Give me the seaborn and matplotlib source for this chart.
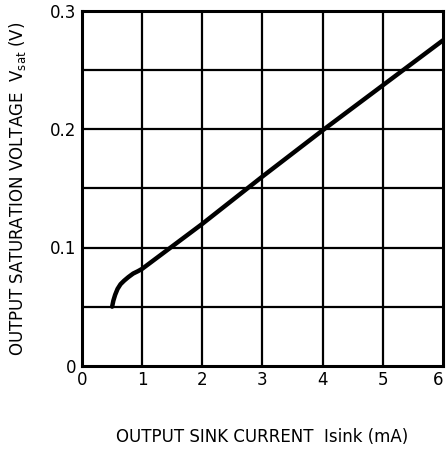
import matplotlib
matplotlib.use("Agg")
import matplotlib.pyplot as plt
import seaborn as sns
import numpy as np
import pandas as pd

# Data
isink_ma = [0.5, 0.52, 0.55, 0.59, 0.64, 0.7, 0.77, 0.85, 0.93, 1.0, 1.5, 2.0, 3.0, 4.0, 5.0, 6.0]
vsat_v = [0.050, 0.055, 0.060, 0.065, 0.069, 0.072, 0.075, 0.078, 0.080, 0.082, 0.101, 0.120, 0.160, 0.199, 0.237, 0.275]
x_ticks = [0, 1, 2, 3, 4, 5, 6]
y_ticks = [0, 0.1, 0.2, 0.3]
y_tick_labels = ["0", "0.1", "0.2", "0.3"]
y_grid = [0.05, 0.1, 0.15, 0.2, 0.25]

sns.set_theme(style="white")
plt.rcParams['font.family'] = ['DejaVu Sans']

df = pd.DataFrame({"I": isink_ma, "V": vsat_v})

fig = plt.figure(figsize=(4.46, 4.5), dpi=100)
ax = fig.add_axes([0.184, 0.187, 0.809, 0.789])

for xv in x_ticks[1:-1]:
    ax.axvline(xv, color="black", lw=1.6, zorder=1)
for yv in y_grid:
    ax.axhline(yv, color="black", lw=1.6, zorder=1)

sns.lineplot(data=df, x="I", y="V", ax=ax, color="black", lw=3.2, zorder=3)

ax.set_xlim(0, 6)
ax.set_ylim(0, 0.3)
ax.set_xticks(x_ticks)
ax.set_xticklabels([str(v) for v in x_ticks])
ax.set_yticks(y_ticks)
ax.set_yticklabels(y_tick_labels)
ax.tick_params(axis="both", length=0, labelsize=12, pad=4, colors="black")
xl = ax.get_xticklabels()
xl[-1].set_horizontalalignment("right")
for s in ax.spines.values():
    s.set_visible(True)
    s.set_color("black")
    s.set_linewidth(2.2)

ax.set_xlabel("OUTPUT SINK CURRENT  Isink (mA)", fontsize=12, labelpad=28, color="black")
ax.set_ylabel("OUTPUT SATURATION VOLTAGE  V$_{\\mathrm{sat}}$ (V)", fontsize=12, labelpad=16, color="black")

fig.savefig("out.png", dpi=100)
